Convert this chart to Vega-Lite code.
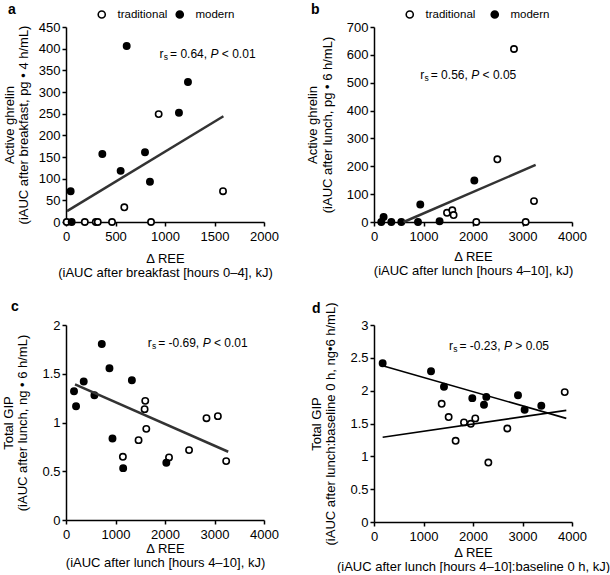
{
  "$schema": "https://vega.github.io/schema/vega-lite/v6.json",
  "padding": {"left": 2, "top": 3, "right": 0, "bottom": 0},
  "background": "white",
  "datasets": {
    "a_pts": [
      {"x": 7, "y": 0, "group": "traditional"}, {"x": 190, "y": 0, "group": "traditional"}, {"x": 301, "y": 0, "group": "traditional"},
      {"x": 321, "y": 0, "group": "traditional"}, {"x": 465, "y": 0, "group": "traditional"}, {"x": 589, "y": 34, "group": "traditional"},
      {"x": 859, "y": 0, "group": "traditional"}, {"x": 936, "y": 249, "group": "traditional"}, {"x": 1586, "y": 71, "group": "traditional"},
      {"x": 47, "y": 71, "group": "modern"}, {"x": 57, "y": 0, "group": "modern"}, {"x": 367, "y": 157, "group": "modern"},
      {"x": 552, "y": 118, "group": "modern"}, {"x": 613, "y": 406, "group": "modern"}, {"x": 798, "y": 161, "group": "modern"},
      {"x": 848, "y": 93, "group": "modern"}, {"x": 1141, "y": 252, "group": "modern"}, {"x": 1232, "y": 323, "group": "modern"}
    ],
    "a_line": [{"x": 10, "y": 25}, {"x": 1590, "y": 244}],
    "b_pts": [
      {"x": 1475, "y": 33, "group": "traditional"}, {"x": 1582, "y": 42, "group": "traditional"}, {"x": 1608, "y": 25, "group": "traditional"},
      {"x": 2067, "y": 0, "group": "traditional"}, {"x": 2492, "y": 225, "group": "traditional"}, {"x": 2828, "y": 621, "group": "traditional"},
      {"x": 3064, "y": 0, "group": "traditional"}, {"x": 3232, "y": 75, "group": "traditional"},
      {"x": 147, "y": 0, "group": "modern"}, {"x": 194, "y": 18, "group": "modern"}, {"x": 350, "y": 0, "group": "modern"},
      {"x": 552, "y": 0, "group": "modern"}, {"x": 889, "y": 0, "group": "modern"}, {"x": 935, "y": 63, "group": "modern"},
      {"x": 1325, "y": 3, "group": "modern"}, {"x": 2027, "y": 149, "group": "modern"}
    ],
    "b_line": [{"x": 598, "y": 0}, {"x": 3266, "y": 205}],
    "c_pts": [
      {"x": 1149, "y": 0.648, "group": "traditional"}, {"x": 1466, "y": 0.819, "group": "traditional"}, {"x": 1588, "y": 1.137, "group": "traditional"},
      {"x": 1601, "y": 1.222, "group": "traditional"}, {"x": 1622, "y": 0.935, "group": "traditional"}, {"x": 2081, "y": 0.642, "group": "traditional"},
      {"x": 2486, "y": 0.717, "group": "traditional"}, {"x": 2838, "y": 1.044, "group": "traditional"}, {"x": 3068, "y": 1.065, "group": "traditional"},
      {"x": 3236, "y": 0.604, "group": "traditional"},
      {"x": 162, "y": 1.321, "group": "modern"}, {"x": 203, "y": 1.167, "group": "modern"}, {"x": 358, "y": 1.42, "group": "modern"},
      {"x": 574, "y": 1.28, "group": "modern"}, {"x": 723, "y": 1.805, "group": "modern"}, {"x": 878, "y": 1.556, "group": "modern"},
      {"x": 939, "y": 0.836, "group": "modern"}, {"x": 1331, "y": 1.433, "group": "modern"}, {"x": 1155, "y": 0.532, "group": "modern"},
      {"x": 2027, "y": 0.587, "group": "modern"}
    ],
    "c_line": [{"x": 182, "y": 1.392}, {"x": 3277, "y": 0.7}],
    "d_pts": [
      {"x": 1367, "y": 1.8, "group": "traditional"}, {"x": 1508, "y": 1.598, "group": "traditional"}, {"x": 1649, "y": 1.236, "group": "traditional"},
      {"x": 1818, "y": 1.517, "group": "traditional"}, {"x": 1955, "y": 1.495, "group": "traditional"}, {"x": 2046, "y": 1.578, "group": "traditional"},
      {"x": 2310, "y": 0.905, "group": "traditional"}, {"x": 2693, "y": 1.424, "group": "traditional"}, {"x": 3853, "y": 1.978, "group": "traditional"},
      {"x": 175, "y": 2.418, "group": "modern"}, {"x": 1152, "y": 2.296, "group": "modern"}, {"x": 1414, "y": 2.059, "group": "modern"},
      {"x": 1986, "y": 1.886, "group": "modern"}, {"x": 2222, "y": 1.786, "group": "modern"}, {"x": 2269, "y": 1.905, "group": "modern"},
      {"x": 2909, "y": 1.93, "group": "modern"}, {"x": 3043, "y": 1.71, "group": "modern"}, {"x": 3380, "y": 1.77, "group": "modern"}
    ],
    "d_lines": [
      {"x": 175, "y": 2.378, "group": "modern"}, {"x": 3885, "y": 1.578, "group": "modern"},
      {"x": 175, "y": 1.29, "group": "traditional"}, {"x": 3885, "y": 1.7, "group": "traditional"}
    ],
    "one": [{"k": 1}]
  },
  "resolve": {"scale": {"fill": "independent"}},
  "columns": 2,
  "spacing": {"row": 103, "column": 110},
  "bounds": "flush",
  "concat": [
    {
      "width": 198, "height": 195,
      "title": {"text": "a", "dx": -58, "dy": 12.5},
      "layer": [
        {
          "data": {"name": "a_pts"},
          "mark": {"type": "point", "filled": true, "stroke": "black", "strokeWidth": 1.6, "size": 40, "opacity": 1},
          "encoding": {
            "x": {"field": "x", "type": "quantitative", "scale": {"domain": [0, 2000], "nice": false},
              "axis": {"values": [0, 500, 1000, 1500, 2000], "tickCount": 20, "labelOverlap": false, "titlePadding": 9, "title": ["Δ REE", "(iAUC after breakfast [hours 0–4], kJ)"]}},
            "y": {"field": "y", "type": "quantitative", "scale": {"domain": [0, 450], "nice": false},
              "axis": {"values": [0, 50, 100, 150, 200, 250, 300, 350, 400, 450], "tickCount": 20, "labelOverlap": false, "titlePadding": 7.5, "title": ["Active ghrelin", "(iAUC after breakfast, pg • 4 h/mL)"]}},
            "fill": {"field": "group", "type": "nominal", "scale": {"domain": ["traditional", "modern"], "range": ["white", "black"]},
              "legend": {"legendX": 30, "legendY": -18.5, "columnPadding": 5}}
          }
        },
        {
          "data": {"name": "a_line"},
          "mark": {"type": "line", "color": "#333333", "strokeWidth": 2.5},
          "encoding": {"x": {"field": "x", "type": "quantitative"}, "y": {"field": "y", "type": "quantitative"}}
        },
        {"data": {"name": "one"}, "mark": {"type": "text", "text": "r", "align": "left", "baseline": "middle", "fontSize": 12}, "encoding": {"x": {"datum": 945}, "y": {"datum": 388}}},
        {"data": {"name": "one"}, "mark": {"type": "text", "text": "s", "align": "left", "baseline": "middle", "fontSize": 8.5, "dx": 4.2, "dy": 3}, "encoding": {"x": {"datum": 945}, "y": {"datum": 388}}},
        {"data": {"name": "one"}, "mark": {"type": "text", "text": "= 0.64,", "align": "left", "baseline": "middle", "fontSize": 12, "dx": 10.5}, "encoding": {"x": {"datum": 945}, "y": {"datum": 388}}},
        {"data": {"name": "one"}, "mark": {"type": "text", "text": "P", "align": "left", "baseline": "middle", "fontSize": 12, "fontStyle": "italic", "dx": 51}, "encoding": {"x": {"datum": 945}, "y": {"datum": 388}}},
        {"data": {"name": "one"}, "mark": {"type": "text", "text": "< 0.01", "align": "left", "baseline": "middle", "fontSize": 12, "dx": 62.3}, "encoding": {"x": {"datum": 945}, "y": {"datum": 388}}}
      ]
    },
    {
      "width": 198, "height": 195,
      "title": {"text": "b", "dx": -63, "dy": 12.5},
      "layer": [
        {
          "data": {"name": "b_pts"},
          "mark": {"type": "point", "filled": true, "stroke": "black", "strokeWidth": 1.6, "size": 40, "opacity": 1},
          "encoding": {
            "x": {"field": "x", "type": "quantitative", "scale": {"domain": [0, 4000], "nice": false},
              "axis": {"values": [0, 1000, 2000, 3000, 4000], "tickCount": 20, "labelOverlap": false, "titlePadding": 7.5, "title": ["Δ REE", "(iAUC after lunch [hours 4–10], kJ)"]}},
            "y": {"field": "y", "type": "quantitative", "scale": {"domain": [0, 700], "nice": false},
              "axis": {"values": [0, 100, 200, 300, 400, 500, 600, 700], "tickCount": 20, "labelOverlap": false, "titlePadding": 12, "title": ["Active ghrelin", "(iAUC after lunch, pg • 6 h/mL)"]}},
            "fill": {"field": "group", "type": "nominal", "scale": {"domain": ["traditional", "modern"], "range": ["white", "black"]},
              "legend": {"legendX": 30, "legendY": -18.5, "columnPadding": 12}}
          }
        },
        {
          "data": {"name": "b_line"},
          "mark": {"type": "line", "color": "#333333", "strokeWidth": 2.5},
          "encoding": {"x": {"field": "x", "type": "quantitative"}, "y": {"field": "y", "type": "quantitative"}}
        },
        {"data": {"name": "one"}, "mark": {"type": "text", "text": "r", "align": "left", "baseline": "middle", "fontSize": 12}, "encoding": {"x": {"datum": 935}, "y": {"datum": 528}}},
        {"data": {"name": "one"}, "mark": {"type": "text", "text": "s", "align": "left", "baseline": "middle", "fontSize": 8.5, "dx": 4.2, "dy": 3}, "encoding": {"x": {"datum": 935}, "y": {"datum": 528}}},
        {"data": {"name": "one"}, "mark": {"type": "text", "text": "= 0.56,", "align": "left", "baseline": "middle", "fontSize": 12, "dx": 10.5}, "encoding": {"x": {"datum": 935}, "y": {"datum": 528}}},
        {"data": {"name": "one"}, "mark": {"type": "text", "text": "P", "align": "left", "baseline": "middle", "fontSize": 12, "fontStyle": "italic", "dx": 51}, "encoding": {"x": {"datum": 935}, "y": {"datum": 528}}},
        {"data": {"name": "one"}, "mark": {"type": "text", "text": "< 0.05", "align": "left", "baseline": "middle", "fontSize": 12, "dx": 62.3}, "encoding": {"x": {"datum": 935}, "y": {"datum": 528}}}
      ]
    },
    {
      "width": 198, "height": 195,
      "title": {"text": "c", "dx": -55, "dy": -1.5},
      "layer": [
        {
          "data": {"name": "c_pts"},
          "mark": {"type": "point", "filled": true, "stroke": "black", "strokeWidth": 1.6, "size": 40, "opacity": 1},
          "encoding": {
            "x": {"field": "x", "type": "quantitative", "scale": {"domain": [0, 4000], "nice": false},
              "axis": {"values": [0, 1000, 2000, 3000, 4000], "tickCount": 20, "labelOverlap": false, "titlePadding": 1, "title": ["Δ REE", "(iAUC after lunch [hours 4–10], kJ)"]}},
            "y": {"field": "y", "type": "quantitative", "scale": {"domain": [0, 2], "nice": false},
              "axis": {"values": [0, 0.5, 1, 1.5, 2], "tickCount": 20, "labelOverlap": false, "titlePadding": 12, "title": ["Total GIP", "(iAUC after lunch, ng • 6 h/mL)"]}},
            "fill": {"field": "group", "type": "nominal", "scale": {"domain": ["traditional", "modern"], "range": ["white", "black"]}, "legend": null}
          }
        },
        {
          "data": {"name": "c_line"},
          "mark": {"type": "line", "color": "#333333", "strokeWidth": 2.5},
          "encoding": {"x": {"field": "x", "type": "quantitative"}, "y": {"field": "y", "type": "quantitative"}}
        },
        {"data": {"name": "one"}, "mark": {"type": "text", "text": "r", "align": "left", "baseline": "middle", "fontSize": 12}, "encoding": {"x": {"datum": 1650}, "y": {"datum": 1.82}}},
        {"data": {"name": "one"}, "mark": {"type": "text", "text": "s", "align": "left", "baseline": "middle", "fontSize": 8.5, "dx": 4.2, "dy": 3}, "encoding": {"x": {"datum": 1650}, "y": {"datum": 1.82}}},
        {"data": {"name": "one"}, "mark": {"type": "text", "text": "= -0.69,", "align": "left", "baseline": "middle", "fontSize": 12, "dx": 10.5}, "encoding": {"x": {"datum": 1650}, "y": {"datum": 1.82}}},
        {"data": {"name": "one"}, "mark": {"type": "text", "text": "P", "align": "left", "baseline": "middle", "fontSize": 12, "fontStyle": "italic", "dx": 55}, "encoding": {"x": {"datum": 1650}, "y": {"datum": 1.82}}},
        {"data": {"name": "one"}, "mark": {"type": "text", "text": "< 0.01", "align": "left", "baseline": "middle", "fontSize": 12, "dx": 66.3}, "encoding": {"x": {"datum": 1650}, "y": {"datum": 1.82}}}
      ]
    },
    {
      "width": 198, "height": 197,
      "title": {"text": "d", "dx": -62, "dy": 18},
      "layer": [
        {
          "data": {"name": "d_pts"},
          "mark": {"type": "point", "filled": true, "stroke": "black", "strokeWidth": 1.6, "size": 40, "opacity": 1},
          "encoding": {
            "x": {"field": "x", "type": "quantitative", "scale": {"domain": [0, 4000], "nice": false},
              "axis": {"values": [0, 1000, 2000, 3000, 4000], "tickCount": 20, "labelOverlap": false, "titlePadding": 3, "title": ["Δ REE", "(iAUC after lunch [hours 4–10]:baseline 0 h, kJ)"]}},
            "y": {"field": "y", "type": "quantitative", "scale": {"domain": [0, 3], "nice": false},
              "axis": {"values": [0, 0.5, 1, 1.5, 2, 2.5, 3], "tickCount": 20, "labelOverlap": false, "titlePadding": 12, "title": ["Total GIP", "(iAUC after lunch:baseline 0 h, ng•6 h/mL)"]}},
            "fill": {"field": "group", "type": "nominal", "scale": {"domain": ["traditional", "modern"], "range": ["white", "black"]}, "legend": null}
          }
        },
        {
          "data": {"name": "d_lines"},
          "mark": {"type": "line", "color": "black", "strokeWidth": 1.6},
          "encoding": {"x": {"field": "x", "type": "quantitative"}, "y": {"field": "y", "type": "quantitative"}, "detail": {"field": "group"}}
        },
        {"data": {"name": "one"}, "mark": {"type": "text", "text": "r", "align": "left", "baseline": "middle", "fontSize": 12}, "encoding": {"x": {"datum": 1515}, "y": {"datum": 2.68}}},
        {"data": {"name": "one"}, "mark": {"type": "text", "text": "s", "align": "left", "baseline": "middle", "fontSize": 8.5, "dx": 4.2, "dy": 3}, "encoding": {"x": {"datum": 1515}, "y": {"datum": 2.68}}},
        {"data": {"name": "one"}, "mark": {"type": "text", "text": "= -0.23,", "align": "left", "baseline": "middle", "fontSize": 12, "dx": 10.5}, "encoding": {"x": {"datum": 1515}, "y": {"datum": 2.68}}},
        {"data": {"name": "one"}, "mark": {"type": "text", "text": "P", "align": "left", "baseline": "middle", "fontSize": 12, "fontStyle": "italic", "dx": 55}, "encoding": {"x": {"datum": 1515}, "y": {"datum": 2.68}}},
        {"data": {"name": "one"}, "mark": {"type": "text", "text": "> 0.05", "align": "left", "baseline": "middle", "fontSize": 12, "dx": 66.3}, "encoding": {"x": {"datum": 1515}, "y": {"datum": 2.68}}}
      ]
    }
  ],
  "config": {
    "font": "Liberation Sans",
    "view": {"stroke": null},
    "text": {"font": "Liberation Sans", "color": "black"},
    "title": {"anchor": "start", "frame": "group", "fontSize": 14, "fontWeight": "bold", "font": "Liberation Sans", "color": "black", "baseline": "alphabetic", "offset": 0},
    "axis": {
      "grid": false, "domainColor": "black", "domainWidth": 1.5, "tickColor": "black", "tickWidth": 1.5, "tickSize": 4,
      "labelFont": "Liberation Sans", "labelFontSize": 13, "labelColor": "black", "labelFlush": false, "labelOverlap": false, "labelPadding": 2, "format": "~f",
      "titleFont": "Liberation Sans", "titleFontSize": 13, "titleFontWeight": "normal", "titleColor": "black", "titleLineHeight": 14.5
    },
    "axisX": {"labelPadding": 4, "titleLineHeight": 14},
    "legend": {
      "orient": "none", "direction": "horizontal", "title": null, "padding": 0,
      "symbolType": "circle", "symbolSize": 50, "symbolStrokeColor": "black", "symbolStrokeWidth": 1.6,
      "labelFont": "Liberation Sans", "labelFontSize": 11.5, "labelColor": "black", "labelOffset": 10, "columnPadding": 9
    }
  }
}
